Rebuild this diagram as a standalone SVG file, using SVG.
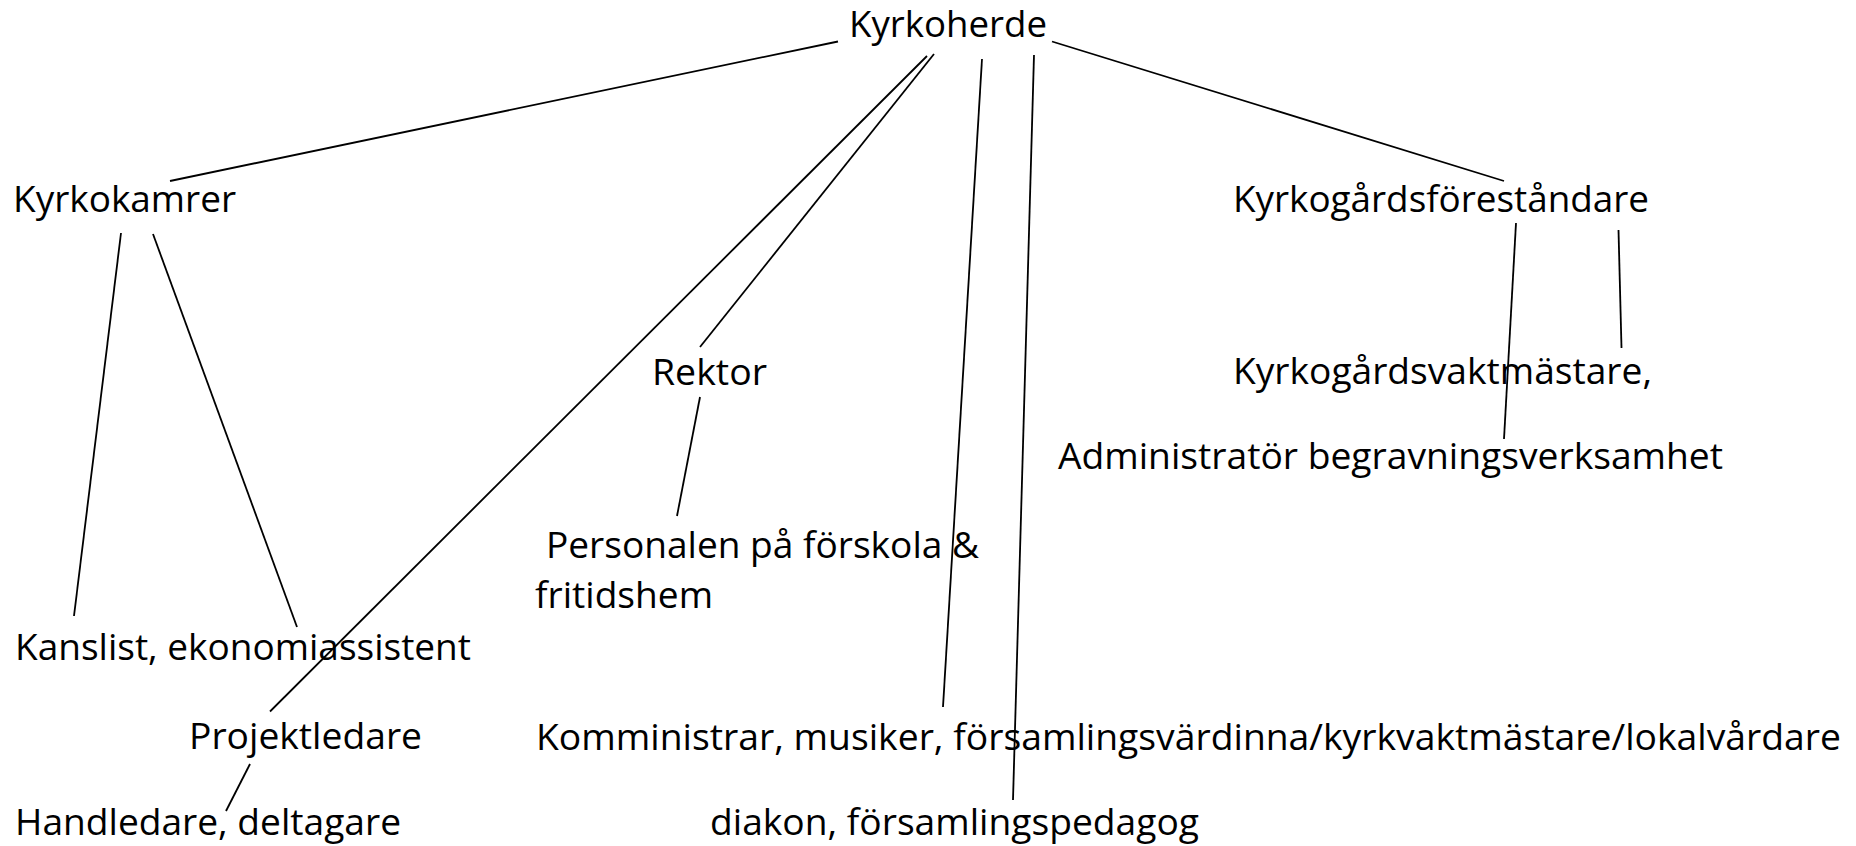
<svg xmlns="http://www.w3.org/2000/svg" width="1856" height="846" viewBox="0 0 1856 846">
<style>
text{font-family:"Open Sans","Noto Sans","Liberation Sans",sans-serif;font-size:37px;fill:#000}
.c line{stroke:#000;stroke-width:1.8;stroke-linecap:butt}
</style>
<rect x="0" y="0" width="1856" height="846" fill="#fff"/>
<g id="connectors" class="c">
<line x1="838" y1="41.5" x2="170" y2="181"/>
<line x1="1052" y1="41.5" x2="1504" y2="181"/>
<line x1="927" y1="56" x2="270" y2="711.5"/>
<line x1="934" y1="54" x2="700" y2="347"/>
<line x1="982" y1="59" x2="943" y2="707"/>
<line x1="1034" y1="55" x2="1013" y2="800"/>
<line x1="1516" y1="223" x2="1504" y2="439"/>
<line x1="1618.5" y1="230" x2="1621.5" y2="348"/>
<line x1="121" y1="233" x2="74" y2="616"/>
<line x1="153" y1="234" x2="297" y2="627"/>
<line x1="700" y1="397" x2="677" y2="516"/>
<line x1="250" y1="764" x2="226" y2="811"/>
</g>
<g id="kyrkoherde"><text x="849" y="37" textLength="198" lengthAdjust="spacingAndGlyphs">Kyrkoherde</text></g>
<g id="kyrkokamrer"><text x="13" y="212" textLength="223" lengthAdjust="spacingAndGlyphs">Kyrkokamrer</text></g>
<g id="kyrkogardsforestandare"><text x="1233" y="212" textLength="416" lengthAdjust="spacingAndGlyphs">Kyrkogårdsföreståndare</text></g>
<g id="kyrkogardsvaktmastare"><text x="1233" y="384" textLength="419" lengthAdjust="spacingAndGlyphs">Kyrkogårdsvaktmästare,</text></g>
<g id="administrator"><text x="1058" y="469" textLength="665" lengthAdjust="spacingAndGlyphs">Administratör begravningsverksamhet</text></g>
<g id="rektor"><text x="652" y="385" textLength="115" lengthAdjust="spacingAndGlyphs">Rektor</text></g>
<g id="personalen">
<text x="546" y="558" textLength="433" lengthAdjust="spacingAndGlyphs">Personalen på förskola &amp;</text>
<text x="535" y="608" textLength="178" lengthAdjust="spacingAndGlyphs">fritidshem</text>
</g>
<g id="kanslist"><text x="15" y="660" textLength="456" lengthAdjust="spacingAndGlyphs">Kanslist, ekonomiassistent</text></g>
<g id="projektledare"><text x="189" y="749" textLength="233" lengthAdjust="spacingAndGlyphs">Projektledare</text></g>
<g id="handledare"><text x="15" y="835" textLength="386" lengthAdjust="spacingAndGlyphs">Handledare, deltagare</text></g>
<g id="komministrar"><text x="536" y="750" textLength="1305" lengthAdjust="spacingAndGlyphs">Komministrar, musiker, församlingsvärdinna/kyrkvaktmästare/lokalvårdare</text></g>
<g id="diakon"><text x="710" y="835" textLength="489" lengthAdjust="spacingAndGlyphs">diakon, församlingspedagog</text></g>
</svg>
